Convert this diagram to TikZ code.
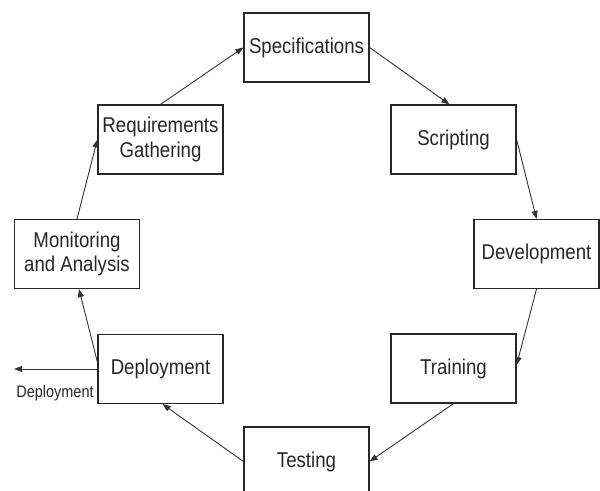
\documentclass[tikz,border=0pt]{standalone}
\usepackage{fontspec}
\setmainfont{Liberation Sans}[FakeStretch=0.87]
\usetikzlibrary{arrows.meta}
\begin{document}
\begin{tikzpicture}[x=1bp,y=-1bp,
  stage/.style={draw=black!85, line width=1.2bp, fill=white,
    minimum width=125bp, minimum height=69bp, inner sep=2bp,
    align=center, font=\fontsize{21.5}{25}\selectfont, text=black!85},
  flow/.style={draw=black!80, line width=0.9bp,
    -{Triangle[length=8bp,width=6bp]}},
  tag/.style={font=\fontsize{16.7}{19}\selectfont, text=black!85, inner sep=0pt}]
  \useasboundingbox (0,0) rectangle (600,491);

  % lifecycle stages, clockwise from the top
  \node[stage] (spec)   at (306.5,47.5) {Specifications};
  \node[stage] (script) at (453.5,139.5) {Scripting};
  \node[stage] (dev)    at (536.5,254) {Development};
  \node[stage] (train)  at (453.5,368.5) {Training};
  \node[stage] (test)   at (306.5,461.5) {Testing};
  \node[stage] (dep)    at (160.5,369) {Deployment};
  \node[stage] (mon)    at (77,254) {Monitoring\\and Analysis};
  \node[stage] (req)    at (160.5,139.5) {Requirements\\Gathering};

  % outgoing release arrow
  \coordinate (out) at (14,369);
  \node[tag] (outlbl) at (55,393) {Deployment};

  % cycle connectors
  \draw[flow] (req.north) -- (spec.west);
  \draw[flow] (spec.east) -- ([xshift=-4bp]script.north);
  \draw[flow] (script.east) -- (dev.north);
  \draw[flow] (dev.south) -- ([yshift=3.5bp]train.east);
  \draw[flow] (train.south) -- (test.east);
  \draw[flow] (test.west) -- ([xshift=2bp]dep.south);
  \draw[flow] ([yshift=7bp]dep.west) -- ([xshift=2bp]mon.south);
  \draw[flow] (mon.north) -- (req.west);
  \draw[flow] (dep.west) -- (out);
\end{tikzpicture}
\end{document}
